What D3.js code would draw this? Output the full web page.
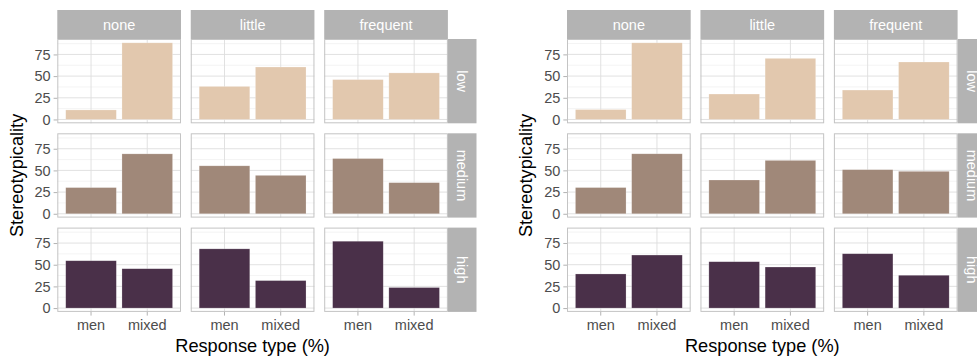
<!DOCTYPE html>
<html>
<head>
<meta charset="utf-8">
<script src="https://cdn.jsdelivr.net/npm/d3@7"></script>
<style>
  html, body { margin: 0; padding: 0; background: #ffffff; }
  text { font-family: "Liberation Sans", Arial, Helvetica, sans-serif; }
</style>
</head>
<body>
<svg id="chart" width="977" height="358"></svg>
<script>
// ---------- data ----------
const categories = ["men", "mixed"];
const columnLabels = ["none", "little", "frequent"];
const rowLabels = ["low", "medium", "high"];
const yTicks = [0, 25, 50, 75];
const yMinorTicks = [12.5, 37.5, 62.5, 87.5];
const rowColors = ["#e2c8ae", "#a08879", "#4a3049"];

// left chart: [row][column]
const leftMen   = [[11.0, 38.1, 46.0], [30.2, 55.3, 63.7], [54.6, 68.3, 77.1]];
const leftMixed = [[88.4, 60.5, 53.7], [69.1, 44.3, 35.9], [45.4, 31.7, 23.7]];
// right chart: [row][column]
const rightMen   = [[11.4, 29.3, 33.9], [30.2, 38.9, 50.8], [39.3, 53.4, 62.6]];
const rightMixed = [[88.3, 70.4, 66.2], [69.1, 61.5, 48.9], [61.1, 47.3, 37.8]];

const xTitle = "Response type (%)";
const yTitle = "Stereotypicality";

// ---------- layout ----------
const svg = d3.select("#chart");
svg.append("rect").attr("width", 977).attr("height", 358).attr("fill", "#ffffff");

const L = {
  panelLeft: 57.3, panelW: 123.7, gapX: 9.75,
  panelTop: 39, panelH: 84.3, gapY: 10,
  stripTop: 10, rowStripW: 28.6
};

function drawChart(ox, menArr, mixArr) {
  const g = svg.append("g").attr("transform", `translate(${ox},0)`);
  const allVals = menArr.flat().concat(mixArr.flat());
  const maxV = d3.max(allVals);
  const y = d3.scaleLinear()
    .domain([-0.05 * maxV, 1.05 * maxV])
    .range([L.panelH, 0]);
  const x = d3.scaleBand().domain(categories)
    .range([0, L.panelW]).paddingInner(0.1).paddingOuter(0.15);

  columnLabels.forEach((cl, ci) => {
    const px = L.panelLeft + ci * (L.panelW + L.gapX);
    // column strip
    g.append("rect").attr("x", px).attr("y", L.stripTop)
      .attr("width", L.panelW).attr("height", L.panelTop - L.stripTop)
      .attr("fill", "#b3b3b3");
    g.append("text").attr("x", px + L.panelW / 2)
      .attr("y", (L.stripTop + L.panelTop) / 2).attr("dy", "0.36em")
      .attr("text-anchor", "middle").attr("fill", "#ffffff")
      .attr("font-size", 14.5).text(cl);

    rowLabels.forEach((rl, ri) => {
      const py = L.panelTop + ri * (L.panelH + L.gapY);
      const p = g.append("g").attr("transform", `translate(${px},${py})`);
      p.append("rect").attr("width", L.panelW).attr("height", L.panelH).attr("fill", "#ffffff");
      // minor grid
      p.selectAll(".ymin").data(yMinorTicks.filter(t => t >= y.domain()[0] && t <= y.domain()[1]))
        .join("line")
        .attr("x1", 0).attr("x2", L.panelW)
        .attr("y1", d => y(d)).attr("y2", d => y(d))
        .attr("stroke", "#ececec").attr("stroke-width", 0.6);
      // major grid
      p.selectAll(".ymaj").data(yTicks).join("line")
        .attr("x1", 0).attr("x2", L.panelW)
        .attr("y1", d => y(d)).attr("y2", d => y(d))
        .attr("stroke", "#dedede").attr("stroke-width", 0.9);
      p.selectAll(".xmaj").data(categories).join("line")
        .attr("x1", d => x(d) + x.bandwidth() / 2).attr("x2", d => x(d) + x.bandwidth() / 2)
        .attr("y1", 0).attr("y2", L.panelH)
        .attr("stroke", "#dedede").attr("stroke-width", 0.9);
      // bars
      const vals = [menArr[ri][ci], mixArr[ri][ci]];
      p.selectAll(".bar").data(categories.map((c, k) => ({ c, v: vals[k] })))
        .join("rect")
        .attr("x", d => x(d.c)).attr("width", x.bandwidth())
        .attr("y", d => y(d.v)).attr("height", d => y(0) - y(d.v))
        .attr("fill", rowColors[ri])
        .attr("stroke", "#ffffff").attr("stroke-opacity", 0.35).attr("stroke-width", 0.6);
      // border
      p.append("rect").attr("x", 0.5).attr("y", 0.5)
        .attr("width", L.panelW - 1).attr("height", L.panelH - 1)
        .attr("fill", "none").attr("stroke", "#c4c4c4").attr("stroke-width", 1);

      // y axis on first column
      if (ci === 0) {
        const ya = g.append("g").attr("transform", `translate(${px},${py})`)
          .call(d3.axisLeft(y).tickValues(yTicks).tickSize(3.7).tickPadding(3));
        ya.select(".domain").remove();
        ya.selectAll(".tick line").attr("stroke", "#b3b3b3");
        ya.selectAll(".tick text").attr("fill", "#4d4d4d").attr("font-size", 14.5)
          .attr("font-family", "Liberation Sans, Arial, sans-serif");
      }
      // x axis on last row
      if (ri === rowLabels.length - 1) {
        const xa = g.append("g").attr("transform", `translate(${px},${py + L.panelH})`)
          .call(d3.axisBottom(x).tickSize(3.7).tickPadding(4));
        xa.select(".domain").remove();
        xa.selectAll(".tick line").attr("stroke", "#b3b3b3");
        xa.selectAll(".tick text").attr("fill", "#4d4d4d").attr("font-size", 14.5)
          .attr("font-family", "Liberation Sans, Arial, sans-serif");
      }
    });
  });

  // row strips
  const stripX = L.panelLeft + columnLabels.length * L.panelW + (columnLabels.length - 1) * L.gapX;
  rowLabels.forEach((rl, ri) => {
    const py = L.panelTop + ri * (L.panelH + L.gapY);
    g.append("rect").attr("x", stripX).attr("y", py)
      .attr("width", L.rowStripW).attr("height", L.panelH).attr("fill", "#b3b3b3");
    const cx = stripX + L.rowStripW / 2, cy = py + L.panelH / 2;
    g.append("text").attr("transform", `translate(${cx},${cy}) rotate(90)`)
      .attr("text-anchor", "middle").attr("dy", "0.36em")
      .attr("fill", "#ffffff").attr("font-size", 14.5).text(rl);
  });

  // axis titles
  const panelsRight = stripX;
  g.append("text").attr("x", (L.panelLeft + panelsRight) / 2).attr("y", 351.5)
    .attr("text-anchor", "middle").attr("fill", "#000000").attr("font-size", 18.2)
    .text(xTitle);
  const midY = L.panelTop + (3 * L.panelH + 2 * L.gapY) / 2;
  g.append("text").attr("transform", `translate(22.5,${midY}) rotate(-90)`)
    .attr("text-anchor", "middle").attr("fill", "#000000").attr("font-size", 18.2)
    .text(yTitle);
}

drawChart(0, leftMen, leftMixed);
drawChart(509.7, rightMen, rightMixed);
</script>
</body>
</html>
